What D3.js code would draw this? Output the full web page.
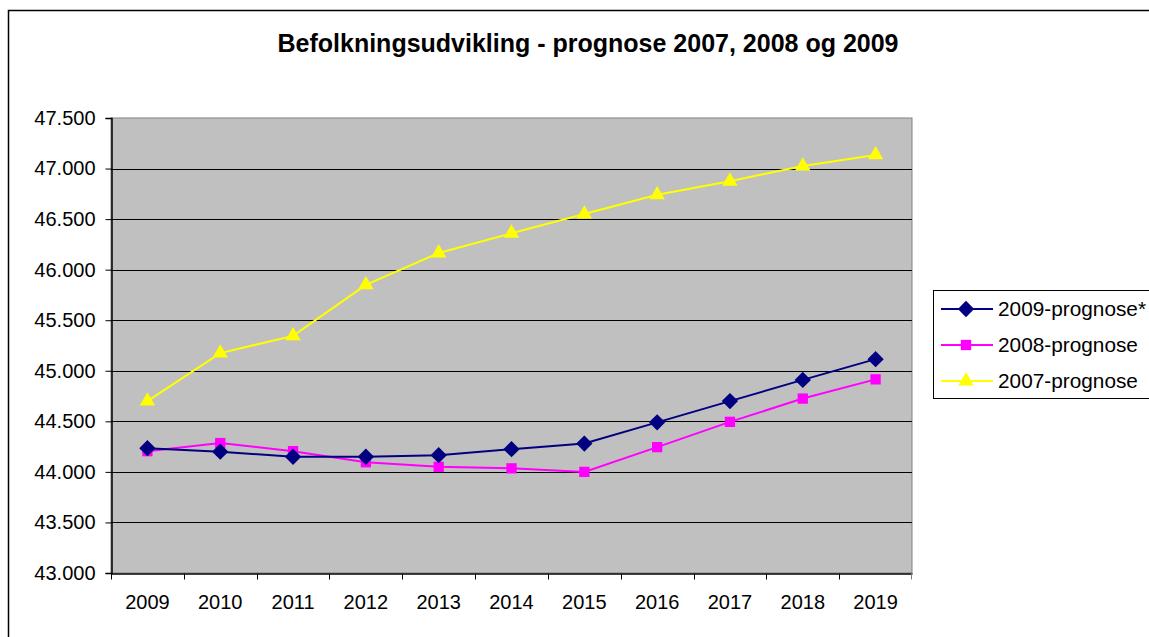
<!DOCTYPE html>
<html lang="da">
<head>
<meta charset="UTF-8">
<title>Befolkningsudvikling - prognose 2007, 2008 og 2009</title>
<script src="https://d3js.org/d3.v7.min.js"></script>
<style>
html,body{margin:0;padding:0;background:#fff}
svg{display:block;font-family:"Liberation Sans",Arial,sans-serif}
.tick text{font-size:20px;fill:#000}
.legend text{font-size:20.8px;fill:#000}
</style>
</head>
<body>
<svg id="chart" width="1149" height="637"></svg>
<script>
// data
const years = ['2009','2010','2011','2012','2013','2014','2015','2016','2017','2018','2019'];
const prognose2009 = [44235, 44200, 44150, 44150, 44165, 44225, 44280, 44490, 44700, 44910, 45115];
const prognose2008 = [44205, 44285, 44205, 44095, 44050, 44035, 44000, 44245, 44495, 44725, 44915];
const prognose2007 = [44700, 45175, 45345, 45850, 46165, 46360, 46550, 46740, 46875, 47025, 47135];
const yTicks = [43000, 43500, 44000, 44500, 45000, 45500, 46000, 46500, 47000, 47500];

const series = [
  { name: '2009-prognose*', values: prognose2009, color: '#000080', symbol: d3.symbolDiamond2, size: 170 },
  { name: '2008-prognose', values: prognose2008, color: '#ff00ff', symbol: d3.symbolSquare2, size: 135 },
  { name: '2007-prognose', values: prognose2007, color: '#ffff00', symbol: d3.symbolTriangle2, size: 170 }
];

const svg = d3.select('#chart');
const plot = { left: 111, top: 118, right: 912, bottom: 573 };

const da = d3.formatLocale({ decimal: ',', thousands: '.', grouping: [3], currency: ['', ''] });
const fmt = da.format(',');

// outer chart frame
svg.append('rect')
  .attr('x', 8.5).attr('y', 10.5).attr('width', 1160).attr('height', 660)
  .attr('fill', '#fff').attr('stroke', '#000').attr('stroke-width', 1.5);

svg.append('text')
  .attr('x', 588).attr('y', 52)
  .attr('text-anchor', 'middle')
  .attr('font-size', 25).attr('font-weight', 'bold')
  .text('Befolkningsudvikling - prognose 2007, 2008 og 2009');

const x = d3.scaleBand().domain(years).range([plot.left, plot.right]).padding(0);
const y = d3.scaleLinear().domain([43000, 47500]).range([plot.bottom, plot.top]);

// plot area
svg.append('rect')
  .attr('x', plot.left).attr('y', plot.top)
  .attr('width', plot.right - plot.left).attr('height', plot.bottom - plot.top)
  .attr('fill', '#c0c0c0').attr('stroke', '#808080').attr('stroke-width', 1);

// gridlines
svg.append('g').selectAll('line').data(yTicks.slice(1, -1)).join('line')
  .attr('x1', plot.left).attr('x2', plot.right)
  .attr('y1', d => Math.round(y(d)) + 0.5).attr('y2', d => Math.round(y(d)) + 0.5)
  .attr('stroke', '#000').attr('stroke-width', 1);

// y axis
const yAxis = svg.append('g')
  .attr('transform', 'translate(' + (plot.left + 0.5) + ',0)')
  .call(d3.axisLeft(y).tickValues(yTicks).tickFormat(fmt).tickSize(6).tickPadding(10));
yAxis.select('.domain').attr('stroke', '#000').attr('stroke-width', 1.5);
yAxis.selectAll('.tick line').attr('stroke', '#000');

// x axis: labels at the category centres, ticks between categories
const xAxis = svg.append('g')
  .attr('transform', 'translate(0,' + (plot.bottom + 0.5) + ')')
  .call(d3.axisBottom(x).tickSize(0).tickPadding(29));
xAxis.select('.domain').attr('stroke', '#000').attr('stroke-width', 1.5);
xAxis.selectAll('.tick text').attr('dy', '0.32em');
xAxis.append('g').selectAll('line').data(years).join('line')
  .attr('x1', d => Math.round(x(d)) + 0.5).attr('x2', d => Math.round(x(d)) + 0.5)
  .attr('y1', 0).attr('y2', 6).attr('stroke', '#000');
xAxis.append('line')
  .attr('x1', plot.right - 0.5).attr('x2', plot.right - 0.5)
  .attr('y1', 0).attr('y2', 6).attr('stroke', '#808080');

const cx = d => x(d) + x.bandwidth() / 2;
const line = d3.line().x((v, i) => cx(years[i])).y(v => y(v));

// draw 2007 first so the lower series sit on top like Excel order
series.slice().reverse().forEach(s => {
  svg.append('path')
    .attr('d', line(s.values))
    .attr('fill', 'none').attr('stroke', s.color).attr('stroke-width', 2);
  svg.append('g').selectAll('path').data(s.values).join('path')
    .attr('transform', (v, i) => 'translate(' + cx(years[i]) + ',' + y(v) + ')')
    .attr('d', d3.symbol().type(s.symbol).size(s.size))
    .attr('fill', s.color).attr('stroke', 'none');
});

// legend
const legend = svg.append('g').attr('class', 'legend');
legend.append('rect')
  .attr('x', 933.5).attr('y', 290.5).attr('width', 240).attr('height', 108)
  .attr('fill', '#fff').attr('stroke', '#000').attr('stroke-width', 1);
const rows = legend.selectAll('g.row').data(series).join('g')
  .attr('class', 'row')
  .attr('transform', (d, i) => 'translate(0,' + (309 + i * 36) + ')');
rows.append('line')
  .attr('x1', 941).attr('x2', 993).attr('y1', 0).attr('y2', 0)
  .attr('stroke', d => d.color).attr('stroke-width', 2);
rows.append('path')
  .attr('transform', 'translate(966,0)')
  .attr('d', d => d3.symbol().type(d.symbol).size(d.size)())
  .attr('fill', d => d.color);
rows.append('text')
  .attr('x', 998).attr('y', 0).attr('dy', '0.35em')
  .text(d => d.name);
</script>
</body>
</html>
